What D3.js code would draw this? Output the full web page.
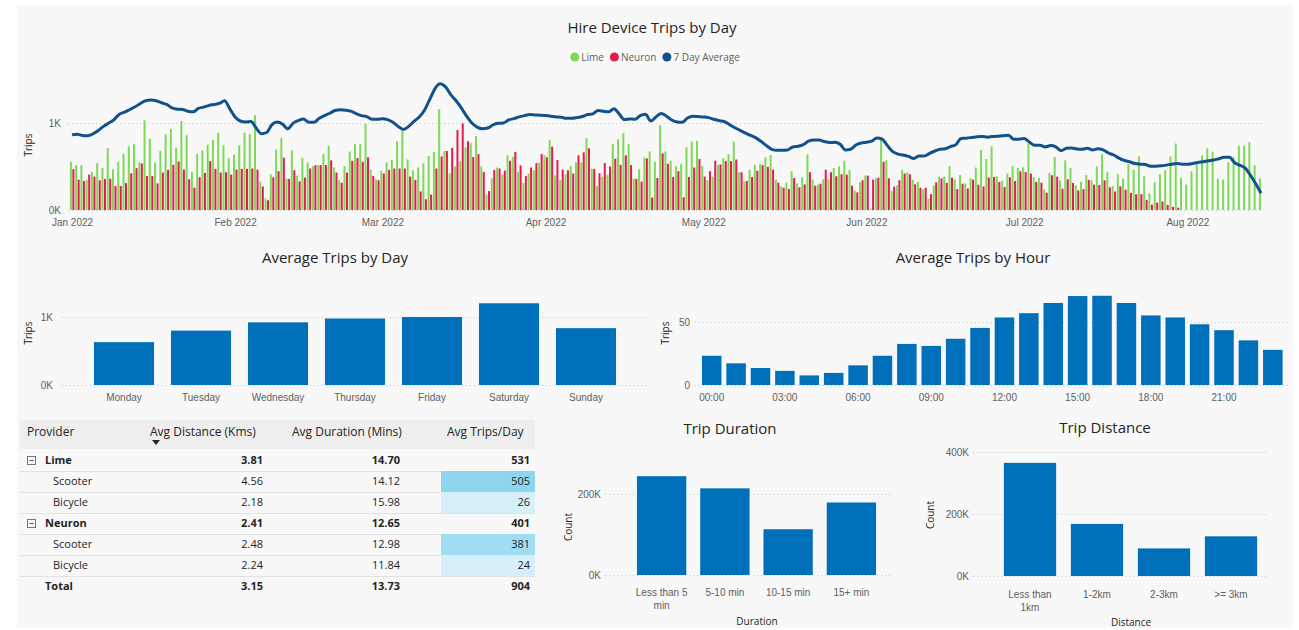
<!DOCTYPE html>
<html lang="en">
<head>
<meta charset="utf-8">
<title>Hire Device Trips</title>
<script src="https://cdn.jsdelivr.net/npm/d3@7"></script>
<style>
  body {margin: 0; background: #fff;}
  svg {display: block; font-family: "Segoe UI", "Open Sans", sans-serif;}
  .title {font-size: 15px; fill: #252423; text-anchor: middle;}
  .axis text {font-size: 10px; fill: #605e5c;}
  .axis path, .axis line {display: none;}
  .grid line {stroke: #c8c8c8; stroke-dasharray: 1,3;}
  .atitle {font-size: 10px; fill: #252423; text-anchor: middle;}
  .tbl {font-size: 11px; fill: #252423;}
</style>
</head>
<body>
<script>
// ---- data ----
var startDate = new Date(2022, 0, 1);

// daily trips per provider, Jan 1 - Aug 15 2022
var limeTrips = [
  554,516,516,349,438,539,481,713,469,554,647,733,756,547,1031,818,547,678,868,934,717,1023,860,438,643,686,752,806,888,744,593,
  636,744,888,872,1089,326,132,411,694,829,357,686,395,600,
  547,504,516,643,740,488,341,504,671,756,756,992,461,353,450,547,578,791,911,581,457,488,535,620,667,1159,678,422,500,562,721,
  771,849,500,178,364,488,407,628,612,438,310,419,457,543,628,
  802,399,341,411,504,547,547,826,473,275,384,403,760,814,884,756,360,469,601,674,554,977,674,566,504,531,721,787,795,508,341,
  384,519,597,643,787,434,329,465,519,527,605,632,349,271,314,
  446,306,376,640,349,291,353,353,481,500,566,461,221,318,395,16,364,806,570,221,283,461,434,349,322,240,128,283,384,384,504,
  353,403,306,364,488,690,585,733,388,337,419,504,484,492,
  760,380,368,236,426,609,341,570,484,283,326,403,341,500,643,434,275,411,360,527,461,616,388,190,318,411,457,616,764,368,291,
  446,527,628,709,671,360,349,547,605,740,740,779,516,364
];
var neuronTrips = [
  469,349,333,407,384,341,357,360,275,275,310,422,481,535,391,391,306,430,461,519,558,465,353,256,376,426,562,473,430,434,407,
  465,473,473,477,465,271,112,376,446,601,357,457,329,372,
  477,516,516,516,570,430,314,430,566,597,554,605,391,341,419,461,477,477,477,384,345,213,124,178,477,616,678,713,919,996,791,
  608,643,438,217,461,477,453,566,667,512,391,488,539,643,605,
  728,574,465,457,419,628,663,709,473,422,539,500,589,519,628,516,357,326,593,143,368,651,531,380,446,147,380,488,585,384,446,
  566,523,562,562,581,434,333,380,450,516,496,465,314,256,240,
  368,260,295,434,279,302,463,434,388,411,407,279,202,341,395,349,372,554,364,268,341,419,411,295,256,256,182,318,364,310,372,
  240,302,248,349,291,271,372,380,322,264,376,333,445,436,
  419,322,314,198,399,384,244,353,310,225,240,345,291,287,341,260,213,271,233,198,182,182,116,62,85,97,58,35,27,0,0,
  0,0,0,0,0,0,0,0,0,0,0,0,0,0
];
var avgTrips7Day = [
  864,872,857,853,876,915,961,1000,1039,1101,1124,1155,1186,1225,1256,1264,1256,1233,1213,1174,1159,1155,1136,1128,1167,1182,1202,1213,1225,1256,1163,
  1070,1023,1012,1016,942,876,891,981,1012,988,934,996,1027,1047,
  1008,1008,1054,1085,1112,1143,1151,1147,1136,1109,1085,1074,1043,1043,1050,1039,1008,961,926,961,1019,1070,1147,1271,1395,1450,1415,1326,1256,1174,1078,
  1000,953,934,942,977,996,1000,1035,1050,1070,1085,1097,1093,1089,1085,
  1078,1070,1066,1054,1054,1062,1074,1097,1105,1143,1136,1128,1163,1105,1039,1047,1043,1085,1101,1023,1070,1109,1078,1035,1012,1008,1058,1078,1074,1070,1062,
  1043,1027,1016,981,946,915,884,857,829,787,740,698,686,686,690,
  725,733,752,791,806,806,787,775,779,756,690,698,748,771,779,791,829,814,740,671,643,632,616,593,620,620,651,678,698,705,729,
  752,822,826,833,841,845,837,845,849,853,860,814,814,822,
  779,744,744,725,740,725,682,709,713,702,698,709,690,705,690,655,632,597,570,554,535,527,523,504,504,508,516,527,535,527,527,
  535,547,554,566,574,589,605,605,543,512,481,399,302,194
];

var weekdays = ["Monday", "Tuesday", "Wednesday", "Thursday", "Friday", "Saturday", "Sunday"];
var weekdayTrips = [630, 800, 922, 978, 1000, 1202, 836];

var hourLabels = ["00:00","01:00","02:00","03:00","04:00","05:00","06:00","07:00","08:00","09:00","10:00","11:00",
                  "12:00","13:00","14:00","15:00","16:00","17:00","18:00","19:00","20:00","21:00","22:00","23:00"];
var hourTrips = [23.2, 17.2, 13.5, 11.2, 7.6, 9.6, 15.6, 23.2, 32.6, 31.0, 36.7, 45.3,
                 53.6, 57.0, 65.1, 70.6, 70.8, 65.1, 55.2, 53.6, 48.2, 43.5, 35.4, 27.9];

var durationBins = ["Less than 5 min", "5-10 min", "10-15 min", "15+ min"];
var durationCounts = [244000, 214000, 113000, 179000];

var distanceBins = ["Less than 1km", "1-2km", "2-3km", ">= 3km"];
var distanceCounts = [365000, 168000, 89000, 128000];

var tableHeader = ["Provider", "Avg Distance (Kms)", "Avg Duration (Mins)", "Avg Trips/Day"];
var tableLabels = ["Lime", "Scooter", "Bicycle", "Neuron", "Scooter", "Bicycle", "Total"];
var tableLevel = [0, 1, 1, 0, 1, 1, 2];
var tableDistance = ["3.81", "4.56", "2.18", "2.41", "2.48", "2.24", "3.15"];
var tableDuration = ["14.70", "14.12", "15.98", "12.65", "12.98", "11.84", "13.73"];
var tableTrips = [531, 505, 26, 401, 381, 24, 904];

// ---- colours ----
var limeColor = "#7ed957", neuronColor = "#e8194b", lineColor = "#11528c", barColor = "#0070bb";

var svg = d3.select("body").append("svg").attr("width", 1299).attr("height", 630);
svg.append("rect").attr("x", 17).attr("y", 5).attr("width", 1276).attr("height", 623).attr("fill", "#f8f8f8");

var kFmt = function(d) { return (d / 1000) + "K"; };

function yTitle(x, y, t) {
  svg.append("text").attr("class", "atitle")
    .attr("transform", "translate(" + x + "," + y + ") rotate(-90)")
    .attr("dy", "0.35em").text(t);
}
function grid(scale, ticks, x1, x2) {
  svg.append("g").attr("class", "grid").selectAll("line").data(ticks).enter().append("line")
    .attr("x1", x1).attr("x2", x2).attr("y1", function(d) { return scale(d) + 0.5; }).attr("y2", function(d) { return scale(d) + 0.5; });
}
function wrap(sel, width) {
  sel.each(function() {
    var text = d3.select(this), words = text.text().split(" "), lines = [], cur = [];
    text.text(null);
    var probe = text.append("tspan");
    words.forEach(function(w) {
      cur.push(w);
      probe.text(cur.join(" "));
      if (probe.node().getComputedTextLength() > width && cur.length > 1) {
        cur.pop(); lines.push(cur.join(" ")); cur = [w];
      }
    });
    lines.push(cur.join(" "));
    probe.remove();
    lines.forEach(function(l, i) {
      text.append("tspan").attr("x", 0).attr("dy", i ? "1.3em" : "0.71em").text(l);
    });
  });
}

// ================= Hire Device Trips by Day =================
var dates = limeTrips.map(function(d, i) { return d3.timeDay.offset(startDate, i); });
var x = d3.scaleTime().domain([startDate, d3.timeDay.offset(startDate, 226)]).range([72, 1261]);
var y = d3.scaleLinear().domain([0, 1000]).range([210, 123]);

svg.append("text").attr("class", "title").attr("x", 652).attr("y", 33).text("Hire Device Trips by Day");

var legend = [["Lime", limeColor], ["Neuron", neuronColor], ["7 Day Average", lineColor]];
var lg = svg.append("g");
var lx = 0;
legend.forEach(function(l) {
  lg.append("circle").attr("cx", lx + 4.5).attr("cy", 0).attr("r", 4.5).attr("fill", l[1]);
  var t = lg.append("text").attr("x", lx + 11).attr("y", 0).attr("dy", "0.35em")
    .style("font-size", "10px").attr("fill", "#605e5c").text(l[0]);
  lx += 11 + t.node().getComputedTextLength() + 6;
});
lg.attr("transform", "translate(" + (655 - (lx - 6) / 2) + ",57)");

grid(y, [0, 1000], 68, 1264);
svg.append("g").attr("class", "axis").attr("transform", "translate(64,0)")
  .call(d3.axisLeft(y).tickValues([0, 1000]).tickFormat(kFmt).tickSize(0).tickPadding(3));
svg.append("g").attr("class", "axis").attr("transform", "translate(0,210)")
  .call(d3.axisBottom(x).ticks(d3.timeMonth.every(1)).tickFormat(d3.timeFormat("%b %Y")).tickSize(0).tickPadding(9));
yTitle(28, 145, "Trips");

svg.append("g").selectAll("rect").data(limeTrips).enter().append("rect")
  .attr("x", function(d, i) { return x(dates[i]) - 2.1; })
  .attr("width", 2).attr("y", function(d) { return y(d); })
  .attr("height", function(d) { return y(0) - y(d); }).attr("fill", limeColor);
svg.append("g").selectAll("rect").data(neuronTrips).enter().append("rect")
  .attr("x", function(d, i) { return x(dates[i]) + 0.4; })
  .attr("width", 2).attr("y", function(d) { return y(d); })
  .attr("height", function(d) { return y(0) - y(d); }).attr("fill", neuronColor);

svg.append("path").datum(avgTrips7Day)
  .attr("fill", "none").attr("stroke", lineColor).attr("stroke-width", 3).attr("stroke-linejoin", "round")
  .attr("d", d3.line().x(function(d, i) { return x(dates[i]); }).y(function(d) { return y(d); }).curve(d3.curveMonotoneX));

// ================= Average Trips by Day =================
var xw = d3.scaleBand().domain(weekdays).range([85.5, 624.5]).paddingInner(0.22).paddingOuter(0.11);
var yw = d3.scaleLinear().domain([0, 1000]).range([385, 317]);
svg.append("text").attr("class", "title").attr("x", 335).attr("y", 263).text("Average Trips by Day");
grid(yw, [0, 1000], 62, 648);
svg.append("g").attr("class", "axis").attr("transform", "translate(56,0)")
  .call(d3.axisLeft(yw).tickValues([0, 1000]).tickFormat(kFmt).tickSize(0).tickPadding(3));
svg.append("g").attr("class", "axis").attr("transform", "translate(0,385)")
  .call(d3.axisBottom(xw).tickSize(0).tickPadding(9));
yTitle(28, 333, "Trips");
svg.append("g").selectAll("rect").data(weekdayTrips).enter().append("rect")
  .attr("x", function(d, i) { return xw(weekdays[i]); }).attr("width", xw.bandwidth())
  .attr("y", function(d) { return yw(d); }).attr("height", function(d) { return yw(0) - yw(d); })
  .attr("fill", barColor);

// ================= Average Trips by Hour =================
var xh = d3.scaleBand().domain(hourLabels).range([699.5, 1285]).paddingInner(0.2).paddingOuter(0.1);
var yh = d3.scaleLinear().domain([0, 50]).range([385, 322]);
svg.append("text").attr("class", "title").attr("x", 973).attr("y", 263).text("Average Trips by Hour");
grid(yh, [0, 50], 695, 1288);
svg.append("g").attr("class", "axis").attr("transform", "translate(693,0)")
  .call(d3.axisLeft(yh).tickValues([0, 50]).tickSize(0).tickPadding(3));
svg.append("g").attr("class", "axis").attr("transform", "translate(0,385)")
  .call(d3.axisBottom(xh).tickValues(hourLabels.filter(function(d, i) { return i % 3 === 0; })).tickSize(0).tickPadding(9));
yTitle(665, 333, "Trips");
svg.append("g").selectAll("rect").data(hourTrips).enter().append("rect")
  .attr("x", function(d, i) { return xh(hourLabels[i]); }).attr("width", xh.bandwidth())
  .attr("y", function(d) { return yh(d); }).attr("height", function(d) { return yh(0) - yh(d); })
  .attr("fill", barColor);

// ================= Provider table =================
var colX = [27, 150, 292, 447];
var numX = [263, 400, 530];
var tb = svg.append("g").attr("class", "tbl");
tb.append("rect").attr("x", 20).attr("y", 420).attr("width", 515).attr("height", 29).attr("fill", "#eeeeee");
tableHeader.forEach(function(h, i) {
  tb.append("text").attr("x", colX[i]).attr("y", 432).attr("dy", "0.35em").style("font-size", "12px").text(h);
});
tb.append("path").attr("d", "M152,440 L160,440 L156,445 Z").attr("fill", "#252423");

var shade = d3.scaleLinear().domain([24, 505]).range(["#d6f0f9", "#8dd6ee"]);
tableLabels.forEach(function(lab, i) {
  var top = 450 + i * 21, mid = top + 10.5, lvl = tableLevel[i];
  if (lvl === 1) {
    tb.append("rect").attr("x", 441).attr("y", top).attr("width", 94).attr("height", 21).attr("fill", shade(tableTrips[i]));
  }
  if (i < tableLabels.length - 1) {
    tb.append("line").attr("x1", 20).attr("x2", 535).attr("y1", top + 21.5).attr("y2", top + 21.5).attr("stroke", "#e3e3e3");
  }
  if (lvl === 0) {
    tb.append("rect").attr("x", 27.5).attr("y", mid - 4).attr("width", 8).attr("height", 8)
      .attr("fill", "none").attr("stroke", "#777");
    tb.append("line").attr("x1", 29.5).attr("x2", 33.5).attr("y1", mid).attr("y2", mid).attr("stroke", "#555");
  }
  var bold = lvl !== 1 ? "bold" : "normal";
  tb.append("text").attr("x", lvl === 1 ? 53 : 45).attr("y", mid).attr("dy", "0.35em")
    .style("font-weight", bold).text(lab);
  [tableDistance[i], tableDuration[i], tableTrips[i]].forEach(function(v, j) {
    tb.append("text").attr("x", numX[j]).attr("y", mid).attr("dy", "0.35em")
      .attr("text-anchor", "end").style("font-weight", bold).text(v);
  });
});

// ================= Trip Duration =================
var xd = d3.scaleBand().domain(durationBins).range([630, 883]).paddingInner(0.22).paddingOuter(0.11);
var yd = d3.scaleLinear().domain([0, 200000]).range([575, 494]);
svg.append("text").attr("class", "title").attr("x", 730).attr("y", 434).text("Trip Duration");
grid(yd, [0, 200000], 605, 890);
svg.append("g").attr("class", "axis").attr("transform", "translate(604,0)")
  .call(d3.axisLeft(yd).tickValues([0, 200000]).tickFormat(kFmt).tickSize(0).tickPadding(3));
svg.append("g").attr("class", "axis").attr("transform", "translate(0,589)")
  .call(d3.axisBottom(xd).tickSize(0).tickPadding(0))
  .selectAll("text").call(wrap, 60);
yTitle(568, 527, "Count");
svg.append("text").attr("class", "atitle").attr("x", 757).attr("y", 625).text("Duration");
svg.append("g").selectAll("rect").data(durationCounts).enter().append("rect")
  .attr("x", function(d, i) { return xd(durationBins[i]); }).attr("width", xd.bandwidth())
  .attr("y", function(d) { return yd(d); }).attr("height", function(d) { return yd(0) - yd(d); })
  .attr("fill", barColor);

// ================= Trip Distance =================
var xs = d3.scaleBand().domain(distanceBins).range([996.5, 1264.5]).paddingInner(0.22).paddingOuter(0.11);
var ys = d3.scaleLinear().domain([0, 400000]).range([576, 452]);
svg.append("text").attr("class", "title").attr("x", 1105).attr("y", 433).text("Trip Distance");
grid(ys, [0, 200000, 400000], 973, 1268);
svg.append("g").attr("class", "axis").attr("transform", "translate(972,0)")
  .call(d3.axisLeft(ys).tickValues([0, 200000, 400000]).tickFormat(kFmt).tickSize(0).tickPadding(3));
svg.append("g").attr("class", "axis").attr("transform", "translate(0,591)")
  .call(d3.axisBottom(xs).tickSize(0).tickPadding(0))
  .selectAll("text").call(wrap, 60);
yTitle(930, 515, "Count");
svg.append("text").attr("class", "atitle").attr("x", 1131).attr("y", 626).text("Distance");
svg.append("g").selectAll("rect").data(distanceCounts).enter().append("rect")
  .attr("x", function(d, i) { return xs(distanceBins[i]); }).attr("width", xs.bandwidth())
  .attr("y", function(d) { return ys(d); }).attr("height", function(d) { return ys(0) - ys(d); })
  .attr("fill", barColor);
</script>
</body>
</html>
